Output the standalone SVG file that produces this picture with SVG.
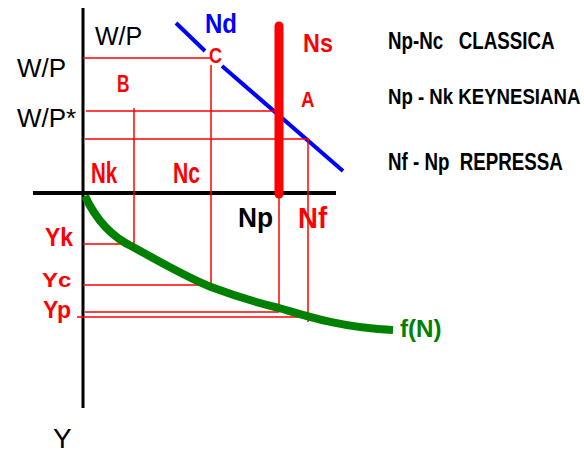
<svg xmlns="http://www.w3.org/2000/svg" width="584" height="453" viewBox="0 0 584 453">
<style>
.ax{stroke:#000;stroke-width:3;fill:none}
.rl{stroke:#ff0000;stroke-width:1.5;fill:none}
.t{font-family:"Liberation Sans",Arial,sans-serif}
.blk{fill:#000}
.red{fill:#ff0000;font-weight:bold}
.leg{font-family:"Liberation Sans",Arial,sans-serif;font-size:23px;font-weight:bold;fill:#000;white-space:pre}
</style>
<rect width="584" height="453" fill="#fff"/>
<g id="connectors">
<line class="ax" x1="83" y1="8" x2="83" y2="408"/>
<line x1="33" y1="193" x2="336" y2="193" stroke="#000" stroke-width="4"/>
<line x1="176" y1="23" x2="205" y2="51" stroke="#0000ff" stroke-width="4"/>
<line x1="222" y1="66" x2="343" y2="171" stroke="#0000ff" stroke-width="4"/>
<line class="rl" x1="83" y1="58" x2="210" y2="58"/>
<line class="rl" x1="86" y1="111" x2="275" y2="111"/>
<line class="rl" x1="85" y1="139" x2="309" y2="139"/>
<line class="rl" x1="134" y1="108" x2="134" y2="251"/>
<line class="rl" x1="211" y1="65" x2="211" y2="290"/>
<line class="rl" x1="279" y1="195" x2="279" y2="310"/>
<line class="rl" x1="308" y1="139" x2="308" y2="322"/>
<line class="rl" x1="83" y1="244" x2="133" y2="244"/>
<line class="rl" x1="83" y1="285" x2="211" y2="285"/>
<line class="rl" x1="85" y1="312" x2="279" y2="312"/>
<line class="rl" x1="77" y1="317" x2="308" y2="317"/>
<line x1="279" y1="26" x2="279" y2="194" stroke="#ff0000" stroke-width="9" stroke-linecap="round"/>
<path d="M85,196 C98,224 116,239 133,247 C160,262 188,278 211,287 C238,297 258,303 279,308 C300,314 340,328 393,330" stroke="#008000" stroke-width="8" fill="none"/>
</g>
<g id="labels-axes">
<text class="t blk" font-size="25" x="95" y="45">W/P</text>
<text class="t blk" font-size="26" x="17" y="77">W/P</text>
<text class="t blk" font-size="26" x="17" y="127">W/P*</text>
<text class="t blk" font-size="28" font-weight="bold" transform="translate(238,227) scale(0.94,1)">Np</text>
<text class="t blk" font-size="28" x="53" y="448">Y</text>
</g>
<g id="node-Nd"><text class="t" font-size="27" fill="#0000ff" font-weight="bold" transform="translate(205,33) scale(0.89,1)">Nd</text></g>
<g id="node-Ns"><text class="t red" font-size="26" transform="translate(303,52) scale(0.9,1)">Ns</text></g>
<g id="node-C"><text class="t red" font-size="22" transform="translate(209,63) scale(0.82,1)">C</text></g>
<g id="node-B"><text class="t red" font-size="24" transform="translate(117,92) scale(0.72,1)">B</text></g>
<g id="node-A"><text class="t red" font-size="22" transform="translate(301,107) scale(0.85,1)">A</text></g>
<g id="node-Nk"><text class="t red" font-size="29" transform="translate(91,183) scale(0.71,1)">Nk</text></g>
<g id="node-Nc"><text class="t red" font-size="29" transform="translate(173,183) scale(0.73,1)">Nc</text></g>
<g id="node-Nf"><text class="t red" font-size="29" transform="translate(298,228) scale(0.95,1)">Nf</text></g>
<g id="node-Yk"><text class="t red" font-size="25" transform="translate(45,246) scale(0.92,1)">Yk</text></g>
<g id="node-Yc"><text class="t red" font-size="20" transform="translate(42,287) scale(1.2,1)">Yc</text></g>
<g id="node-Yp"><text class="t red" font-size="23" x="43" y="318">Yp</text></g>
<g id="node-fN"><text class="t" font-size="23" fill="#008000" font-weight="bold" transform="translate(400,337) scale(1.05,1)">f(N)</text></g>
<g id="legend">
<text class="leg" xml:space="preserve" transform="translate(388,49) scale(0.815,1)">Np-Nc   CLASSICA</text>
<text class="leg" xml:space="preserve" transform="translate(388,104) scale(0.81,1)">Np - Nk KEYNESIANA</text>
<text class="leg" xml:space="preserve" transform="translate(388,170) scale(0.815,1)">Nf - Np  REPRESSA</text>
</g>
</svg>
